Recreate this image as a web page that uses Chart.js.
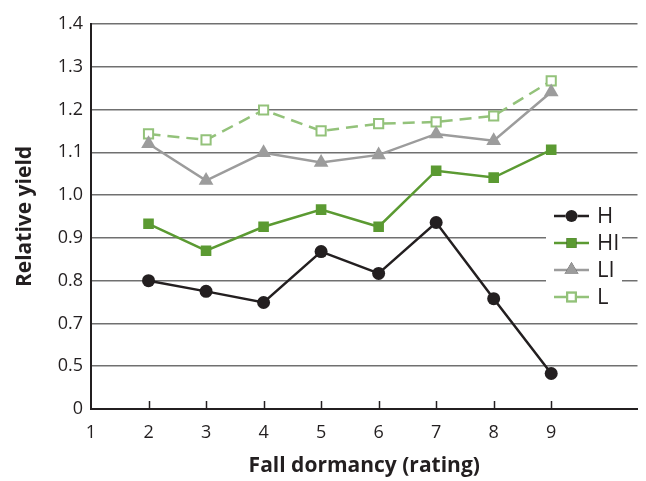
<!DOCTYPE html>
<html>
<head>
<meta charset="utf-8">
<script src="https://cdn.jsdelivr.net/npm/chart.js@4/dist/chart.umd.min.js"></script>
<style>
  body { margin: 0; background: #fff; }
  #wrap { width: 646px; height: 481px; }
</style>
</head>
<body>
<div id="wrap"><canvas id="yieldChart" width="646" height="481"></canvas></div>
<script>
'use strict'

// fall dormancy ratings on the x axis
var ratings = [2, 3, 4, 5, 6, 7, 8, 9];

// relative yield per series
var yieldH = [0.800, 0.775, 0.749, 0.868, 0.817, 0.936, 0.758, 0.583];
var yieldHI = [0.933, 0.870, 0.926, 0.966, 0.926, 1.057, 1.041, 1.106];
var yieldLI = [1.120, 1.034, 1.099, 1.076, 1.094, 1.143, 1.127, 1.241];
var yieldL = [1.143, 1.129, 1.199, 1.150, 1.167, 1.171, 1.185, 1.267];

// y tick labels as printed (axis is broken at the bottom)
var yTickLabels = { '0.5': '0', '0.6': '0.5' };

var textColor = '#231f20';
var fontFamily = '"Open Sans", Lato, sans-serif';

function toPoints(values) {
  return ratings.map(function (r, i) { return { x: r, y: values[i] }; });
}

var seriesList = [
  { label: 'H', data: yieldH, color: '#231f20', point: 'circle', radius: 6.5, fill: '#231f20', dash: [] },
  { label: 'HI', data: yieldHI, color: '#5b9a32', point: 'rect', radius: 7.5, fill: '#5b9a32', dash: [] },
  { label: 'LI', data: yieldLI, color: '#9c9c9c', point: 'triangle', radius: 8.5, fill: '#9c9c9c', dash: [] },
  { label: 'L', data: yieldL, color: '#93c27a', point: 'rect', radius: 6.5, fill: '#ffffff', dash: [12, 7] }
];

// inward tick marks on the x axis
var tickMarks = {
  id: 'tickMarks',
  afterDatasetsDraw: function (chart) {
    var ctx = chart.ctx;
    var xs = chart.scales.x;
    var bottom = chart.chartArea.bottom;
    ctx.save();
    ctx.strokeStyle = textColor;
    ctx.lineWidth = 1.5;
    ratings.forEach(function (r) {
      var px = Math.round(xs.getPixelForValue(r)) + 0.5;
      ctx.beginPath();
      ctx.moveTo(px, bottom);
      ctx.lineTo(px, bottom - 8);
      ctx.stroke();
    });
    ctx.restore();
  }
};

// legend with line + marker samples, inside the plot
var sideLegend = {
  id: 'sideLegend',
  afterDraw: function (chart) {
    var ctx = chart.ctx;
    ctx.save();
    ctx.fillStyle = '#ffffff';
    ctx.fillRect(546, 204, 76, 106);
    chart.data.datasets.forEach(function (ds, i) {
      var y = 216 + i * 27;
      var x0 = 554, x1 = 589;
      ctx.strokeStyle = ds.borderColor;
      ctx.lineWidth = 2.5;
      ctx.beginPath();
      ctx.moveTo(x0, y);
      ctx.lineTo(x1, y);
      ctx.stroke();
      Chart.helpers.drawPoint(ctx, {
        pointStyle: ds.pointStyle,
        radius: ds.pointRadius - 0.5,
        borderWidth: ds.pointBorderWidth,
        rotation: 0
      }, (x0 + x1) / 2, y);
      ctx.fillStyle = ds.pointBackgroundColor;
      ctx.strokeStyle = ds.borderColor;
      ctx.lineWidth = ds.pointBorderWidth;
      ctx.fill();
      if (ds.pointBorderWidth) ctx.stroke();
      ctx.fillStyle = textColor;
      ctx.font = '22px ' + fontFamily;
      ctx.textBaseline = 'middle';
      ctx.fillText(ds.label, 597, y + 1);
    });
    ctx.restore();
  }
};

var results = document.getElementById('yieldChart');

var yieldChart = new Chart(results, {
  type: 'line',
  data: {
    datasets: seriesList.map(function (s) {
      return {
        label: s.label,
        data: toPoints(s.data),
        borderColor: s.color,
        backgroundColor: s.fill,
        pointBackgroundColor: s.fill,
        pointBorderColor: s.color,
        pointBorderWidth: s.fill === '#ffffff' ? 2 : 0,
        pointStyle: s.point,
        pointRadius: s.radius,
        borderWidth: 2.5,
        borderDash: s.dash,
        tension: 0
      };
    })
  },
  options: {
    responsive: false,
    animation: false,
    layout: { padding: { top: 24, right: 8, left: 0, bottom: 0 } },
    plugins: {
      legend: { display: false },
      tooltip: { enabled: false }
    },
    scales: {
      x: {
        type: 'linear',
        min: 1,
        max: 10.5,
        afterBuildTicks: function (scale) {
          scale.ticks = [1, 2, 3, 4, 5, 6, 7, 8, 9].map(function (v) { return { value: v }; });
        },
        afterFit: function (scale) { scale.height = 72; },
        grid: { display: false },
        border: { color: textColor, width: 2 },
        ticks: {
          color: textColor,
          font: { family: fontFamily, size: 18 },
          padding: 5,
          maxRotation: 0
        },
        title: {
          display: true,
          text: 'Fall dormancy (rating)',
          color: textColor,
          font: { family: fontFamily, size: 21, weight: 'bold' },
          padding: { top: 0, bottom: 2 }
        }
      },
      y: {
        min: 0.5,
        max: 1.4,
        afterFit: function (scale) { scale.width = 91; },
        grid: {
          color: '#707070',
          lineWidth: 1.5,
          drawTicks: false
        },
        border: { color: textColor, width: 2 },
        ticks: {
          stepSize: 0.1,
          color: textColor,
          font: { family: fontFamily, size: 18 },
          padding: 8,
          callback: function (value) {
            var key = value.toFixed(1);
            return yTickLabels[key] !== undefined ? yTickLabels[key] : key;
          }
        },
        title: {
          display: true,
          text: 'Relative yield',
          color: textColor,
          font: { family: fontFamily, size: 21, weight: 'bold' },
          padding: { top: 12, bottom: 0 }
        }
      }
    }
  },
  plugins: [tickMarks, sideLegend]
});
</script>
</body>
</html>
